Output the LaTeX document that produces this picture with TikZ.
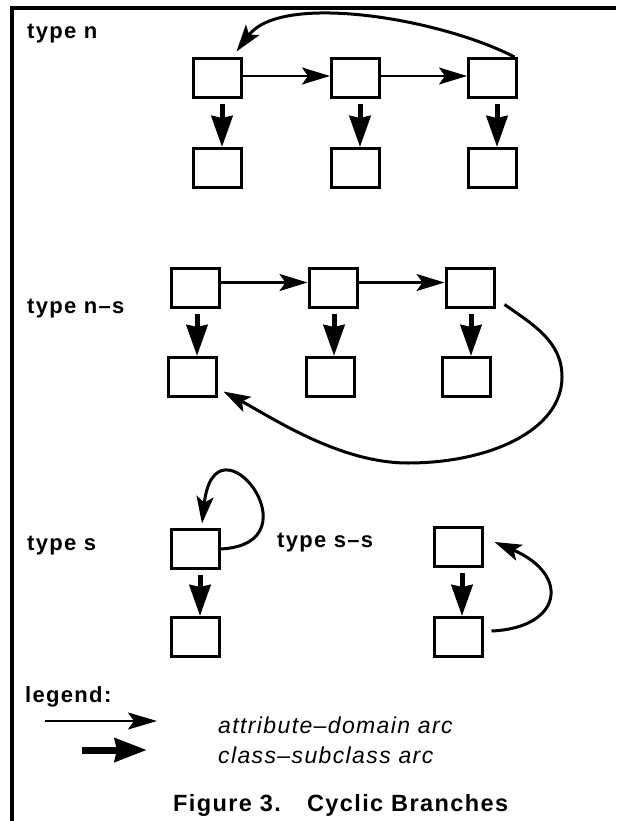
\documentclass[tikz,border=0pt]{standalone}
\usepackage{fontspec}
\setmainfont{Liberation Sans}[LetterSpace=6]
\usetikzlibrary{arrows.meta}
\tikzset{
 cell/.style={draw,line width=3pt,minimum width=48pt,minimum height=39pt,inner sep=0},
 attrarc/.style={line width=2.4pt,-{Stealth[length=28pt,width=17pt,inset=6pt]}},
 subarc/.style={line width=5pt,shorten <=5pt,-{Stealth[length=31pt,width=21pt,inset=2pt]}},
 backarc/.style={line width=3pt,-{Stealth[length=27pt,width=17pt,inset=6pt]}},
 frame/.style={line width=3.2pt},
 typename/.style={anchor=base west,inner sep=0,font=\fontsize{22}{26}\selectfont\bfseries},
 legendtext/.style={anchor=base west,inner sep=0,font=\fontsize{23}{27}\selectfont\itshape}
}

\begin{document}
\begin{tikzpicture}[x=1pt,y=-1pt]
\useasboundingbox (0,0) rectangle (616,821);
\draw[frame] (12,821) -- (12,8) -- (616,8);

% type n
\node[typename] (tn) at (27,39) {type n};
\node[cell] (n1) at (217.5,78) {};
\node[cell] (n2) at (355.5,78) {};
\node[cell] (n3) at (492.5,78) {};
\node[cell] (n4) at (217.5,168) {};
\node[cell] (n5) at (355.5,168) {};
\node[cell] (n6) at (492.5,168) {};
\draw[attrarc] ([yshift=2pt]n1.east) -- ([yshift=2pt]n2.west);
\draw[attrarc] ([yshift=2pt]n2.east) -- ([yshift=2pt]n3.west);
\draw[subarc] ([xshift=4.5pt]n1.south) -- ([xshift=4.5pt]n1.south |- n4.north);
\draw[subarc] ([xshift=4.5pt]n2.south) -- ([xshift=4.5pt]n2.south |- n5.north);
\draw[subarc] ([xshift=4.5pt]n3.south) -- ([xshift=4.5pt]n3.south |- n6.north);
\draw[backarc] ([xshift=-3.5pt]n3.north east) .. controls +(-73,-38) and +(45,-60) .. ([xshift=-6.5pt,yshift=5.5pt]n1.north east);

% type n-s
\node[typename] (tns) at (27,313) {type n–s};
\node[cell] (ns1) at (195,287.5) {};
\node[cell] (ns2) at (333,287.5) {};
\node[cell] (ns3) at (470,287.5) {};
\node[cell] (ns4) at (192,377) {};
\node[cell] (ns5) at (330,377) {};
\node[cell] (ns6) at (466.5,377) {};
\draw[attrarc] ([yshift=5pt]ns1.east) -- ([yshift=5pt]ns2.west);
\draw[attrarc] ([yshift=5pt]ns2.east) -- ([yshift=5pt]ns3.west);
\draw[subarc] ([xshift=2pt]ns1.south) -- ([xshift=2pt]ns1.south |- ns4.north);
\draw[subarc] ([xshift=1pt]ns2.south) -- ([xshift=1pt]ns2.south |- ns5.north);
\draw[subarc] ([xshift=1pt]ns3.south) -- ([xshift=1pt]ns3.south |- ns6.north);
\coordinate (nsR) at (562,377);
\coordinate (nsB) at (408,463);
\draw[backarc] ([xshift=9pt,yshift=4pt]ns3.south east) .. controls +(30,21) and +(0,-35) .. (nsR)
  .. controls +(0,53) and +(82,0) .. (nsB)
  .. controls +(-68,0) and +(50,27) .. ([xshift=6pt,yshift=6.5pt]ns4.south east);

% type s
\node[typename] (ts) at (27,550) {type s};
\node[cell] (s1) at (195,549) {};
\node[cell] (s2) at (195,637) {};
\draw[subarc] ([xshift=5pt]s1.south) -- ([xshift=5pt]s1.south |- s2.north);
\draw[backarc] (s1.east) .. controls +(100,-5) and +(13,-115) .. ([xshift=7pt,yshift=4.5pt]s1.north);

% type s-s
\node[typename] (tss) at (277,547) {type s–s};
\node[cell] (ss1) at (458,547) {};
\node[cell] (ss2) at (458,637) {};
\draw[subarc] ([xshift=4pt]ss1.south) -- ([xshift=4pt]ss1.south |- ss2.north);
\draw[backarc] ([xshift=8pt,yshift=6pt]ss2.east) .. controls +(70,-3) and +(77,33) .. ([xshift=11pt,yshift=5pt]ss1.east);

% legend
\node[typename] (leg) at (25,702) {legend:};
\node[legendtext] (attr) at (218,733) {attribute–domain arc};
\node[legendtext] (sub) at (218,763) {class–subclass arc};
\coordinate (a1) at (45,721);
\coordinate (a2) at (157,721);
\coordinate (b1) at (82,750);
\coordinate (b2) at (147,750);
\draw[attrarc,-{Stealth[length=29pt,width=17pt,inset=6pt]}] (a1) -- (a2);
\draw[subarc,shorten <=0pt,line width=7pt,-{Stealth[length=32pt,width=23pt,inset=2pt]}] (b1) -- (b2);

\node[typename,font=\fontsize{23.5}{28}\selectfont\bfseries] (cap) at (173,811) {Figure 3.\hspace{26pt}Cyclic Branches};
\end{tikzpicture}
\end{document}
